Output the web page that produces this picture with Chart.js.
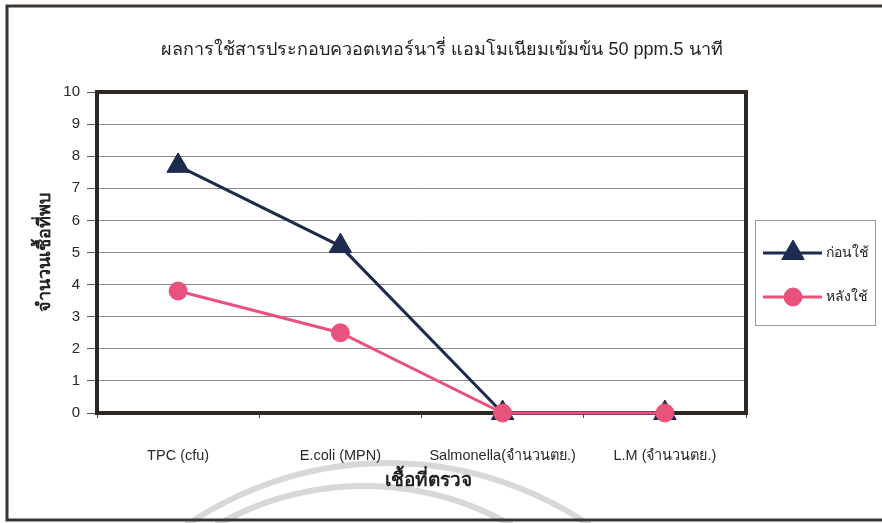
<!DOCTYPE html>
<html lang="th">
<head>
<meta charset="utf-8">
<title>ผลการใช้สารประกอบควอตเทอร์นารี่ แอมโมเนียม</title>
<script src="https://cdn.jsdelivr.net/npm/chart.js@4/dist/chart.umd.min.js"></script>
<style>
  html, body { margin: 0; padding: 0; background: #ffffff; }
  #wrap { width: 882px; height: 523px; position: relative; }
</style>
</head>
<body>
<div id="wrap"><canvas id="chart" width="882" height="523"></canvas></div>
<script>
// Data
const categories = ['TPC (cfu)', 'E.coli (MPN)', 'Salmonella(จำนวนตย.)', 'L.M (จำนวนตย.)'];
const beforeValues = [7.7, 5.2, 0, 0];
const afterValues = [3.8, 2.5, 0, 0];
const seriesLabels = ['ก่อนใช้', 'หลังใช้'];
const yTickValues = [0, 1, 2, 3, 4, 5, 6, 7, 8, 9, 10];

const chartTitle = 'ผลการใช้สารประกอบควอตเทอร์นารี่ แอมโมเนียมเข้มข้น 50 ppm.5 นาที';
const xTitle = 'เชื้อที่ตรวจ';
const yTitle = 'จำนวนเชื้อที่พบ';

const FONT = '"Liberation Sans", Arial, "Noto Sans", sans-serif';
const NAVY = '#1d2b4f';
const PINK = '#e8527c';

// Page decorations: outer frame, faint arcs, titles, plot frame and legend box
const decorations = {
  id: 'decorations',
  beforeDraw(chart) {
    const ctx = chart.ctx;
    ctx.save();
    ctx.fillStyle = '#ffffff';
    ctx.fillRect(0, 0, chart.width, chart.height);
    // faint arcs behind the lower labels
    ctx.strokeStyle = 'rgba(200,200,200,0.7)';
    ctx.lineWidth = 6;
    ctx.beginPath();
    ctx.arc(388, 820, 357, Math.PI, 2 * Math.PI);
    ctx.stroke();
    ctx.beginPath();
    ctx.arc(364, 783, 297, Math.PI, 2 * Math.PI);
    ctx.stroke();
    // outer frame
    ctx.strokeStyle = '#3b3531';
    ctx.lineWidth = 3;
    ctx.strokeRect(7, 6, 900, 514);
    ctx.restore();
  },
  beforeDatasetsDraw(chart) {
    const ctx = chart.ctx;
    const a = chart.chartArea;
    ctx.save();
    ctx.strokeStyle = '#2e2824';
    ctx.lineWidth = 4;
    ctx.strokeRect(a.left, a.top, a.right - a.left, a.bottom - a.top);
    ctx.restore();
  },
  afterDraw(chart) {
    const ctx = chart.ctx;
    const a = chart.chartArea;
    ctx.save();
    ctx.fillStyle = '#222222';
    ctx.textAlign = 'center';
    ctx.textBaseline = 'middle';
    ctx.font = '18px ' + FONT;
    ctx.fillText(chartTitle, 442, 50);
    ctx.font = 'bold 19px ' + FONT;
    ctx.fillText(xTitle, 428, 481);
    ctx.save();
    ctx.translate(45, (a.top + a.bottom) / 2);
    ctx.rotate(-Math.PI / 2);
    ctx.font = 'bold 18px ' + FONT;
    ctx.fillText(yTitle, 0, 0);
    ctx.restore();

    // legend
    ctx.strokeStyle = '#9a9a9a';
    ctx.lineWidth = 1;
    ctx.strokeRect(755.5, 220.5, 120, 105);
    const rows = [253, 297];
    chart.data.datasets.forEach((ds, i) => {
      const y = rows[i];
      ctx.strokeStyle = ds.borderColor;
      ctx.lineWidth = 3;
      ctx.beginPath();
      ctx.moveTo(763, y);
      ctx.lineTo(822, y);
      ctx.stroke();
      ctx.fillStyle = ds.pointBackgroundColor;
      ctx.strokeStyle = ds.pointBorderColor;
      ctx.lineWidth = 1;
      Chart.helpers.drawPoint(ctx, {
        pointStyle: ds.pointStyle,
        radius: ds.pointRadius,
        borderWidth: 1,
        rotation: 0
      }, 793, y);
      ctx.fillStyle = '#222222';
      ctx.textAlign = 'left';
      ctx.font = '14px ' + FONT;
      ctx.fillText(ds.label, 826, y);
    });
    ctx.restore();
  }
};

new Chart(document.getElementById('chart'), {
  type: 'line',
  data: {
    labels: categories,
    datasets: [
      {
        label: seriesLabels[0],
        data: beforeValues,
        borderColor: NAVY,
        backgroundColor: NAVY,
        pointBackgroundColor: NAVY,
        pointBorderColor: NAVY,
        pointStyle: 'triangle',
        pointRadius: 13,
        pointBorderWidth: 1,
        borderWidth: 3,
        order: 2,
        clip: false
      },
      {
        label: seriesLabels[1],
        data: afterValues,
        borderColor: PINK,
        backgroundColor: PINK,
        pointBackgroundColor: PINK,
        pointBorderColor: PINK,
        pointStyle: 'circle',
        pointRadius: 9,
        pointBorderWidth: 1,
        borderWidth: 3,
        order: 1,
        clip: false
      }
    ]
  },
  options: {
    responsive: false,
    animation: false,
    devicePixelRatio: 1,
    layout: { padding: { left: 0, top: 92, right: 136, bottom: 0 } },
    plugins: {
      legend: { display: false },
      title: { display: false },
      tooltip: { enabled: false }
    },
    scales: {
      x: {
        type: 'category',
        offset: true,
        grid: {
          offset: true,
          drawOnChartArea: false,
          tickLength: 5,
          tickColor: '#444444'
        },
        border: { display: false },
        ticks: {
          color: '#2a2a2a',
          font: { family: FONT, size: 14.5 },
          padding: 29,
          maxRotation: 0,
          autoSkip: false
        },
        afterFit(scale) { scale.height = 110; }
      },
      y: {
        min: 0,
        max: 10,
        afterBuildTicks(scale) {
          scale.ticks = yTickValues.map(v => ({ value: v }));
        },
        grid: {
          color: '#8c8c8c',
          lineWidth: 1,
          tickLength: 10,
          tickColor: '#555555'
        },
        border: { display: false },
        ticks: {
          color: '#2a2a2a',
          font: { family: FONT, size: 15 },
          padding: 7
        },
        afterFit(scale) { scale.width = 97; }
      }
    }
  },
  plugins: [decorations]
});
</script>
</body>
</html>
